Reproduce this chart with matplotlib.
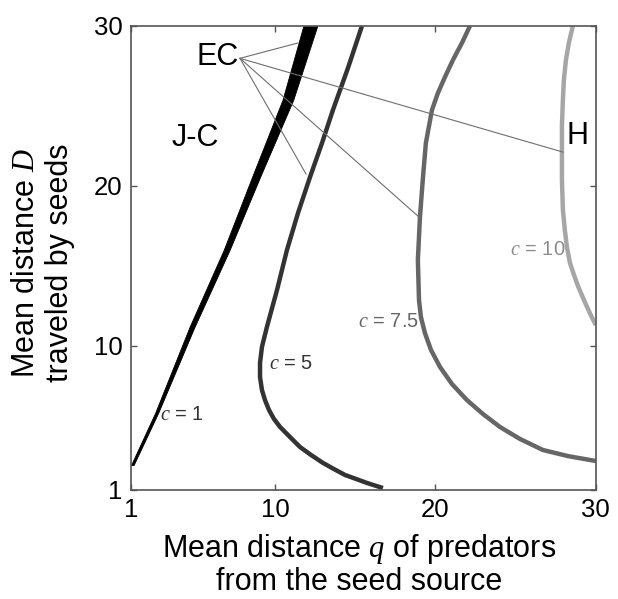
import matplotlib
matplotlib.use("Agg")
import matplotlib.pyplot as plt

plt.rcParams['font.family'] = ['Liberation Sans', 'DejaVu Sans']
plt.rcParams['mathtext.fontset'] = 'custom'
plt.rcParams['mathtext.rm'] = 'Liberation Sans'
plt.rcParams['mathtext.it'] = 'Liberation Serif:italic'

# c = 1 boundary drawn as a band (left / right edges)
band_y = [2.56, 5.81, 11.19, 16.0, 20.56, 25.38, 30.0]
band_left = [1.0, 2.50, 4.65, 6.78, 8.55, 10.45, 11.75]
band_right = [1.16, 2.69, 4.96, 7.15, 9.05, 11.12, 12.62]

# c = 5
c5_q = [15.41, 14.54, 13.60, 12.92, 12.17, 11.42, 10.73, 10.11, 9.48, 9.17, 9.05, 9.05,
        9.17, 9.36, 9.61, 9.92, 10.30, 10.92, 11.54, 12.23, 12.98, 13.66, 14.35, 15.04,
        15.72, 16.72]
c5_D = [30.0, 27.38, 24.75, 22.69, 20.56, 18.31, 16.0, 13.5, 11.19, 9.94, 8.94, 8.06,
        7.25, 6.62, 6.0, 5.44, 4.94, 4.31, 3.69, 3.19, 2.69, 2.31, 1.94, 1.69,
        1.44, 1.12]

# c = 7.5
c75_q = [22.15, 21.65, 21.09, 20.59, 20.15, 19.78, 19.40, 19.22, 19.03, 18.90, 18.97,
         19.09, 19.34, 19.72, 20.28, 21.03, 21.96, 22.96, 24.02, 25.27, 26.70, 28.26, 30.0]
c75_D = [30.0, 28.94, 27.88, 26.81, 25.81, 24.75, 22.69, 20.56, 18.06, 15.38, 12.88,
         11.81, 10.81, 9.75, 8.69, 7.62, 6.62, 5.75, 4.94, 4.19, 3.50, 3.12, 2.81]

# c = 10
c10_q = [28.57, 28.32, 28.14, 28.01, 27.95, 27.89, 27.89, 27.89, 27.95, 28.07, 28.20,
         28.39, 28.64, 28.89, 29.26, 29.63, 30.0]
c10_D = [30.0, 28.94, 27.88, 26.62, 25.38, 23.81, 22.25, 20.38, 18.5, 17.25, 16.19,
         15.19, 14.44, 13.75, 12.88, 12.06, 11.31]

# EC annotation: anchor and targets
ec_anchor = (7.80, 27.98)
ec_targets = [(11.42, 28.94), (27.95, 22.12), (18.97, 18.06), (11.92, 20.75)]

# curve labels
c_labels = ['1', '5', '7.5', '10']
c_label_pos = [(4.21, 5.69), (11.01, 8.91), (17.09, 11.53), (26.36, 16.0)]
c_label_col = ['#333333', '#333333', '#666666', '#8c8c8c']

ticks = [1, 10, 20, 30]

fig = plt.figure(figsize=(6.18, 5.99), dpi=100)
ax = fig.add_axes([0.212, 0.182, 0.752, 0.7746])

ax.fill_betweenx(band_y, band_left, band_right, color='black', lw=0.6, edgecolor='black')
ax.plot(c5_q, c5_D, color='#333333', lw=3.2, solid_capstyle='butt', solid_joinstyle='round')
ax.plot(c75_q, c75_D, color='#666666', lw=3.2, solid_capstyle='butt', solid_joinstyle='round')
ax.plot(c10_q, c10_D, color='#a6a6a6', lw=3.2, solid_capstyle='butt', solid_joinstyle='round')

for tx, ty in ec_targets:
    ax.plot([ec_anchor[0], tx], [ec_anchor[1], ty], color='#6e6e6e', lw=0.8)

ax.text(6.40, 28.09, 'EC', fontsize=22, ha='center', va='center')
ax.text(4.99, 23.0, 'J-C', fontsize=22, ha='center', va='center')
ax.text(28.89, 23.12, 'H', fontsize=22, ha='center', va='center')

for lab, (lx, ly), col in zip(c_labels, c_label_pos, c_label_col):
    ax.text(lx, ly, '$c$ = ' + lab, fontsize=14.5, color=col, ha='center', va='center')

ax.set_xlim(1, 30)
ax.set_ylim(1, 30)
ax.set_xticks(ticks)
ax.set_yticks(ticks)
ax.tick_params(direction='in', length=4, width=1, top=True, right=True,
               labelsize=18.5, pad=6, color='#555555')
for sp in ax.spines.values():
    sp.set_color('#555555')
    sp.set_linewidth(1.2)

ax.set_xlabel('Mean distance $q$ of predators\nfrom the seed source', fontsize=22,
              linespacing=1.05)
ax.xaxis.set_label_coords(0.49, -0.09)
ax.set_ylabel('Mean distance $D$\ntraveled by seeds', fontsize=22, linespacing=1.2)
ax.yaxis.set_label_coords(-0.12, 0.49)

fig.savefig('out.png', dpi=100)
